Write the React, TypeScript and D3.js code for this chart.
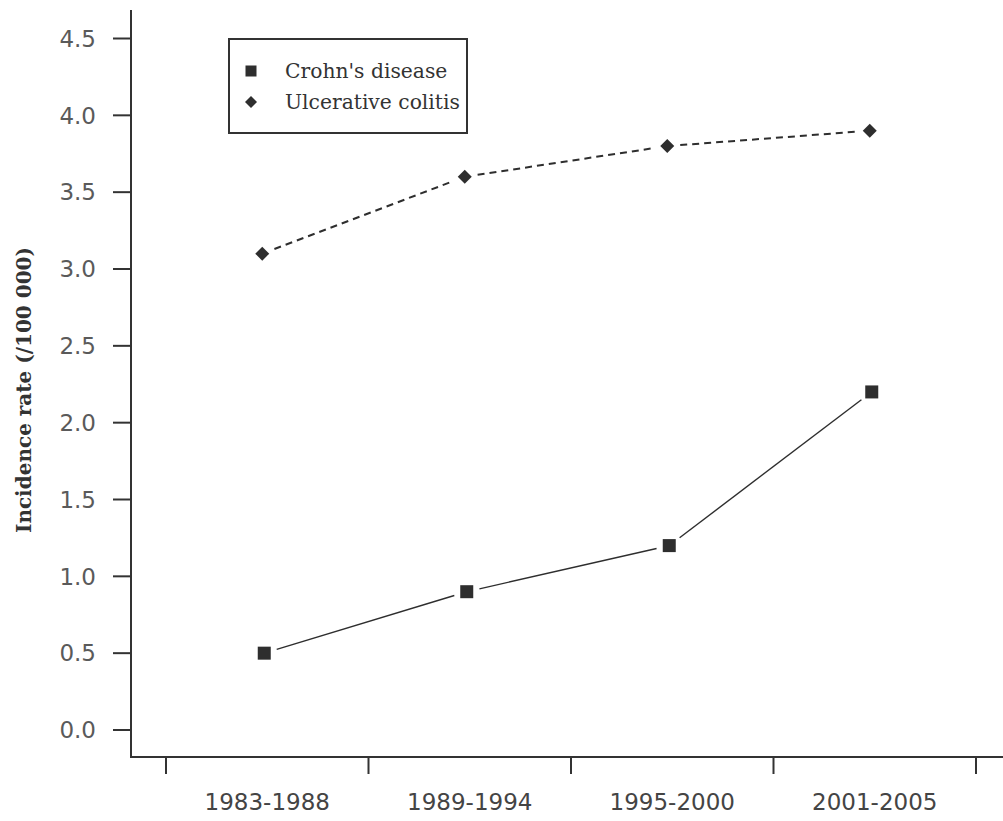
import React from "react";
import * as d3 from "d3";

// Incidence of inflammatory bowel disease by period (per 100 000)
const periods = ["1983-1988", "1989-1994", "1995-2000", "2001-2005"];
const crohnsValues = [0.5, 0.9, 1.2, 2.2];
const ucValues = [3.1, 3.6, 3.8, 3.9];
const yTicks = [0, 0.5, 1, 1.5, 2, 2.5, 3, 3.5, 4, 4.5];
const seriesNames = ["Crohn's disease", "Ulcerative colitis"];

const W = 1003;
const H = 821;
const AXIS_COLOR = "#333";
const INK = "#2e2e2e";
const TICK_FONT = "'DejaVu Sans', Verdana, sans-serif";
const SERIF = "'DejaVu Serif', 'Liberation Serif', serif";

const x = d3.scaleBand<string>().domain(periods).range([166, 976]).paddingInner(0).paddingOuter(0);
const y = d3.scaleLinear().domain([0, 4.5]).range([730, 38.5]);

const px = (p: string) => (x(p) as number) + x.bandwidth() / 2 - 3;

type Pt = [number, number];

// Connect consecutive points with segments that stop short of the markers
function gappedSegments(pts: Pt[], gap: number) {
  const segs: { x1: number; y1: number; x2: number; y2: number }[] = [];
  for (let i = 0; i < pts.length - 1; i++) {
    const [ax, ay] = pts[i];
    const [bx, by] = pts[i + 1];
    const len = Math.hypot(bx - ax, by - ay);
    const ux = (bx - ax) / len;
    const uy = (by - ay) / len;
    segs.push({ x1: ax + ux * gap, y1: ay + uy * gap, x2: bx - ux * gap, y2: by - uy * gap });
  }
  return segs;
}

function Square({ cx, cy, s }: { cx: number; cy: number; s: number }) {
  return <rect x={cx - s / 2} y={cy - s / 2} width={s} height={s} fill={INK} />;
}

function Diamond({ cx, cy, r }: { cx: number; cy: number; r: number }) {
  const d = `M${cx},${cy - r}L${cx + r},${cy}L${cx},${cy + r}L${cx - r},${cy}Z`;
  return <path d={d} fill={INK} />;
}

export default function App() {
  const crohnsPts: Pt[] = periods.map((p, i) => [px(p), y(crohnsValues[i])]);
  const ucPts: Pt[] = periods.map((p, i) => [px(p) - 2, y(ucValues[i])]);
  const boundaries = [...periods.map((p) => x(p) as number), x.range()[1]];

  return (
    <svg
      width={W}
      height={H}
      style={{ position: "absolute", left: 0, top: 0, background: "#fff" }}
    >
      {/* y axis */}
      <line x1={131} y1={10} x2={131} y2={758} stroke={AXIS_COLOR} strokeWidth={2} />
      {yTicks.map((t) => (
        <g key={t}>
          <line x1={113} x2={131} y1={y(t)} y2={y(t)} stroke={AXIS_COLOR} strokeWidth={2} />
          <text
            x={96}
            y={y(t)}
            dy="0.36em"
            textAnchor="end"
            fontFamily={TICK_FONT}
            fontSize={23}
            fill="#5a5a5a"
          >
            {t.toFixed(1)}
          </text>
        </g>
      ))}

      {/* x axis */}
      <line x1={131} y1={757} x2={W} y2={757} stroke={AXIS_COLOR} strokeWidth={2} />
      {boundaries.map((b, i) => (
        <line key={i} x1={b} x2={b} y1={757} y2={774} stroke={AXIS_COLOR} strokeWidth={2} />
      ))}
      {periods.map((p) => (
        <text
          key={p}
          x={(x(p) as number) + x.bandwidth() / 2}
          y={810}
          textAnchor="middle"
          fontFamily={TICK_FONT}
          fontSize={23}
          fill="#444"
        >
          {p}
        </text>
      ))}

      {/* y axis title */}
      <text
        transform="translate(31,390) rotate(-90)"
        textAnchor="middle"
        fontFamily={SERIF}
        fontWeight="bold"
        fontSize={20}
        fill="#333"
      >
        Incidence rate (/100 000)
      </text>

      {/* Ulcerative colitis: dashed line */}
      {gappedSegments(ucPts, 13).map((s, i) => (
        <line key={`u${i}`} {...s} stroke={INK} strokeWidth={2} strokeDasharray="7,5" />
      ))}
      {ucPts.map(([cx, cy], i) => (
        <Diamond key={`ud${i}`} cx={cx} cy={cy} r={7} />
      ))}

      {/* Crohn's disease: solid line */}
      {gappedSegments(crohnsPts, 13).map((s, i) => (
        <line key={`c${i}`} {...s} stroke={INK} strokeWidth={1.4} />
      ))}
      {crohnsPts.map(([cx, cy], i) => (
        <Square key={`cs${i}`} cx={cx} cy={cy} s={13} />
      ))}

      {/* legend */}
      <rect x={229} y={39} width={238} height={94} fill="#fff" stroke={AXIS_COLOR} strokeWidth={2} />
      <Square cx={251} cy={71} s={11} />
      <Diamond cx={251} cy={102} r={6} />
      {seriesNames.map((n, i) => (
        <text
          key={n}
          x={285}
          y={71 + i * 31}
          dy="0.35em"
          fontFamily={SERIF}
          fontSize={20.3}
          fill="#333"
        >
          {n}
        </text>
      ))}
    </svg>
  );
}
